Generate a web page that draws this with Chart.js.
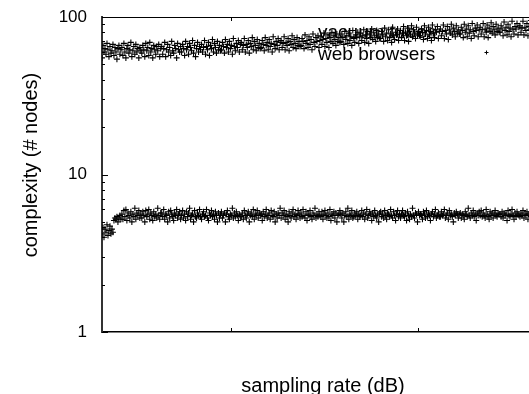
<!DOCTYPE html>
<html>
<head>
<meta charset="utf-8">
<script src="https://cdn.jsdelivr.net/npm/chart.js@4.4.1/dist/chart.umd.min.js"></script>
<style>
  html, body { margin: 0; padding: 0; background: #fff; overflow: hidden; }
  #wrap { width: 545px; height: 394px; }
</style>
</head>
<body>
<div id="wrap"><canvas id="c"></canvas></div>
<script>
// values, two samples per x unit
const seriesNames = ['vacuum tubes', 'web browsers'];
const sampleStep = 0.5;
const vacuumTubes = [
  55, 66, 60, 63, 58, 68, 62, 56, 65, 59, 61, 67, 57, 64, 60, 54, 63, 66, 58, 62,
  64, 57, 68, 60, 55, 63, 66, 59, 62, 69, 56, 61, 65, 58, 67, 60, 63, 55, 64, 61,
  59, 66, 62, 56, 68, 61, 64, 57, 69, 60, 63, 55, 66, 62, 58, 65, 61, 67, 56, 63,
  65, 58, 63, 69, 56, 62, 67, 60, 64, 57, 70, 61, 59, 66, 63, 55, 68, 62, 60, 65,
  60, 67, 63, 57, 70, 62, 65, 58, 68, 64, 61, 71, 59, 66, 56, 63, 69, 60, 65, 62,
  67, 60, 64, 71, 58, 65, 62, 69, 57, 66, 63, 72, 60, 68, 64, 59, 70, 62, 66, 61,
  62, 69, 65, 59, 72, 64, 67, 60, 70, 63, 66, 58, 73, 65, 61, 68, 64, 71, 60, 67,
  69, 62, 66, 73, 60, 67, 64, 71, 59, 68, 65, 74, 62, 70, 66, 61, 72, 64, 68, 63,
  64, 71, 67, 61, 74, 66, 69, 62, 72, 65, 68, 60, 75, 67, 63, 70, 66, 73, 62, 69,
  71, 64, 68, 75, 62, 69, 66, 73, 61, 70, 67, 76, 64, 72, 68, 63, 74, 66, 70, 65,
  66, 73, 70, 63, 77, 68, 71, 64, 75, 67, 72, 62, 78, 69, 65, 74, 70, 76, 64, 71,
  75, 67, 72, 79, 65, 73, 69, 77, 64, 74, 70, 80, 68, 76, 72, 66, 78, 70, 74, 69,
  70, 78, 74, 67, 81, 72, 76, 68, 79, 71, 75, 66, 82, 73, 69, 77, 74, 80, 68, 75,
  79, 71, 76, 83, 69, 77, 73, 81, 68, 78, 74, 84, 72, 80, 76, 70, 82, 74, 78, 73,
  73, 81, 77, 70, 85, 75, 79, 71, 83, 74, 78, 69, 86, 76, 72, 80, 77, 84, 71, 78,
  82, 74, 79, 87, 71, 80, 76, 85, 70, 81, 77, 88, 75, 83, 79, 73, 86, 77, 81, 76,
  76, 84, 80, 72, 88, 78, 82, 73, 86, 77, 81, 71, 89, 79, 74, 83, 80, 87, 73, 81,
  84, 76, 81, 89, 73, 82, 78, 87, 72, 83, 79, 90, 77, 85, 81, 75, 88, 79, 83, 78,
  78, 86, 82, 74, 90, 80, 84, 75, 88, 79, 83, 73, 91, 81, 76, 85, 82, 89, 75, 83,
  86, 78, 83, 91, 75, 84, 80, 89, 74, 85, 81, 92, 79, 87, 83, 77, 90, 81, 85, 80,
  80, 88, 84, 76, 93, 82, 86, 77, 90, 81, 85, 75, 94, 83, 78, 87, 84, 91, 77, 86,
  88, 80, 85, 94, 77, 86, 82, 91, 76, 87, 83, 95, 81, 89, 85, 79, 92, 83, 87, 82
];
const webBrowsers = [
  4.2, 4.6, 4.0, 4.5, 4.3, 4.8, 4.1, 4.4, 4.7, 4.2, 4.5, 4.3, 5.1, 5.3, 5.2, 5.4, 5.0, 5.3, 5.5, 5.2,
  5.6, 5.2, 5.9, 5.4, 6.0, 5.1, 5.7, 5.5, 5.3, 5.8, 5.0, 5.6, 5.4, 6.1, 5.2, 5.7, 5.5, 5.9, 5.3, 5.6,
  5.3, 5.8, 5.5, 5.0, 5.9, 5.4, 5.6, 6.0, 5.2, 5.7, 5.5, 5.1, 5.8, 5.4, 5.6, 5.3, 6.1, 5.5, 5.2, 5.7,
  5.7, 5.4, 6.0, 5.2, 5.6, 5.5, 5.0, 5.8, 5.3, 5.9, 5.6, 5.4, 5.1, 5.7, 5.5, 6.0, 5.3, 5.6, 5.8, 5.2,
  5.5, 5.9, 5.3, 5.6, 5.1, 5.8, 5.4, 5.7, 6.1, 5.2, 5.5, 5.6, 5.0, 5.9, 5.4, 5.3, 5.7, 5.5, 6.0, 5.4,
  5.2, 5.6, 5.8, 5.4, 5.5, 6.0, 5.3, 5.1, 5.7, 5.5, 5.9, 5.4, 5.6, 5.2, 5.8, 5.5, 5.0, 5.7, 5.3, 5.6,
  5.8, 5.3, 5.5, 5.7, 5.0, 5.6, 5.9, 5.4, 5.2, 5.6, 5.5, 6.1, 5.3, 5.7, 5.4, 5.8, 5.5, 5.1, 5.6, 5.4,
  5.4, 5.7, 5.2, 5.9, 5.5, 5.3, 5.6, 5.8, 5.0, 5.5, 5.7, 5.4, 6.0, 5.2, 5.6, 5.5, 5.9, 5.3, 5.7, 5.5,
  5.6, 5.1, 5.8, 5.4, 5.6, 6.0, 5.3, 5.5, 5.7, 5.2, 5.9, 5.5, 5.4, 5.8, 5.0, 5.6, 5.3, 5.7, 5.5, 6.1,
  5.3, 5.7, 5.5, 5.9, 5.2, 5.6, 5.4, 5.0, 5.8, 5.5, 5.3, 5.7, 6.0, 5.4, 5.6, 5.2, 5.5, 5.9, 5.6, 5.3,
  5.7, 5.4, 6.0, 5.5, 5.3, 5.8, 5.1, 5.6, 5.5, 5.9, 5.4, 5.2, 5.7, 5.5, 6.1, 5.3, 5.6, 5.4, 5.8, 5.5,
  5.4, 5.8, 5.2, 5.6, 5.9, 5.5, 5.3, 5.7, 5.4, 6.0, 5.1, 5.6, 5.5, 5.8, 5.3, 5.7, 5.0, 5.5, 5.6, 5.9,
  5.6, 5.3, 5.7, 5.0, 5.5, 5.8, 5.4, 6.1, 5.2, 5.6, 5.5, 5.9, 5.3, 5.4, 5.7, 5.5, 5.8, 5.2, 5.6, 5.4,
  5.5, 5.9, 5.4, 5.7, 5.2, 5.6, 6.0, 5.3, 5.5, 5.8, 5.6, 5.1, 5.7, 5.4, 5.9, 5.5, 5.3, 5.6, 5.0, 5.7,
  5.8, 5.4, 5.6, 5.3, 5.9, 5.5, 5.2, 5.7, 5.6, 5.4, 6.0, 5.5, 5.3, 5.8, 5.5, 5.1, 5.6, 5.9, 5.4, 5.6,
  5.3, 5.6, 5.9, 5.5, 5.4, 5.7, 5.1, 5.8, 5.5, 5.2, 5.6, 5.4, 6.1, 5.5, 5.3, 5.7, 5.6, 5.0, 5.8, 5.5,
  5.6, 5.5, 5.2, 5.8, 5.6, 5.3, 5.9, 5.4, 5.7, 5.5, 5.1, 5.6, 5.8, 5.4, 5.6, 6.0, 5.3, 5.5, 5.7, 5.4,
  5.4, 5.8, 5.5, 5.6, 6.0, 5.3, 5.5, 5.7, 5.2, 5.9, 5.5, 5.6, 5.4, 5.0, 5.7, 5.5, 5.8, 5.6, 5.3, 5.6,
  5.7, 5.3, 5.6, 5.5, 5.2, 5.8, 5.6, 5.4, 6.1, 5.5, 5.3, 5.7, 5.5, 5.9, 5.4, 5.6, 5.1, 5.7, 5.5, 5.8,
  5.5, 5.9, 5.4, 5.7, 5.5, 5.3, 6.0, 5.6, 5.4, 5.2, 5.8, 5.5, 5.7, 5.3, 5.6, 5.9, 5.5, 5.4, 5.7, 5.6,
  5.6, 5.4, 5.8, 5.3, 5.7, 5.5, 5.6, 5.1, 5.9, 5.5, 5.4, 5.6, 6.0, 5.5, 5.2, 5.7, 5.4, 5.8, 5.6, 5.5,
  5.4, 5.7, 5.5, 5.9, 5.3, 5.6, 5.5, 5.8, 5.2, 5.6, 5.7, 5.4, 5.5, 6.0, 5.6, 5.3, 5.7, 5.5, 5.4, 5.8
];
const yTicks = [1, 10, 100];
const xTicks = [65, 159];
const xRange = [0, 220];
const xTitle = 'sampling rate (dB)';
const yTitle = 'complexity (# nodes)';

const FONT = '"Liberation Sans", Arial, Helvetica, sans-serif';
const toPoints = arr => arr.map((v, i) => ({ x: i * sampleStep, y: v }));

function cross(ctx, x, y, r) {
  ctx.beginPath();
  ctx.moveTo(x - r, y); ctx.lineTo(x + r, y);
  ctx.moveTo(x, y - r); ctx.lineTo(x, y + r);
  ctx.stroke();
}

// gnuplot look: key, inward ticks, top border, axis titles
const gnuplotFrame = {
  id: 'gnuplotFrame',
  beforeDatasetsDraw(chart) {
    const ctx = chart.ctx;
    ctx.save();
    ctx.font = '19px ' + FONT;
    ctx.fillStyle = '#000';
    ctx.strokeStyle = '#000';
    ctx.lineWidth = 1;
    chart.data.datasets.forEach((ds, k) => {
      const base = 38 + k * 21.5;
      ctx.fillText(ds.label, 318, base);
      cross(ctx, 486.5, base - 7, 2);
    });
    ctx.restore();
  },
  afterDatasetsDraw(chart) {
    const ctx = chart.ctx;
    const a = chart.chartArea;
    const xs = chart.scales.x, ys = chart.scales.y;
    ctx.save();
    ctx.strokeStyle = '#000';
    ctx.lineWidth = 1;
    ctx.beginPath();
    ctx.moveTo(a.left, a.top + 0.5); ctx.lineTo(a.right, a.top + 0.5);
    xTicks.forEach(v => {
      const px = Math.round(xs.getPixelForValue(v)) + 0.5;
      ctx.moveTo(px, a.bottom); ctx.lineTo(px, a.bottom - 4);
      ctx.moveTo(px, a.top); ctx.lineTo(px, a.top + 4);
    });
    for (let d = 0; d < yTicks.length - 1; d++) {
      for (let m = 1; m < 10; m++) {
        const py = Math.round(ys.getPixelForValue(yTicks[d] * m)) + 0.5;
        const len = m === 1 ? 6 : 3;
        ctx.moveTo(a.left, py); ctx.lineTo(a.left + len, py);
      }
    }
    ctx.stroke();
    ctx.restore();
  },
  afterDraw(chart) {
    const ctx = chart.ctx;
    ctx.save();
    ctx.font = '20px ' + FONT;
    ctx.fillStyle = '#000';
    ctx.textAlign = 'center';
    ctx.textBaseline = 'alphabetic';
    ctx.fillText(xTitle, 323, 391.5);
    ctx.translate(37, 165);
    ctx.rotate(-Math.PI / 2);
    ctx.fillText(yTitle, 0, 0);
    ctx.restore();
  }
};

const pointLook = {
  pointStyle: 'cross',
  radius: 3,
  borderWidth: 1.1,
  borderColor: '#000',
  backgroundColor: '#000'
};

new Chart(document.getElementById('c').getContext('2d'), {
  type: 'scatter',
  data: {
    datasets: [
      Object.assign({ label: seriesNames[0], data: toPoints(vacuumTubes) }, pointLook),
      Object.assign({ label: seriesNames[1], data: toPoints(webBrowsers) }, pointLook)
    ]
  },
  options: {
    responsive: true,
    maintainAspectRatio: false,
    animation: false,
    events: [],
    layout: { padding: { top: 17, right: 0, left: 0, bottom: 0 } },
    plugins: { legend: { display: false }, tooltip: { enabled: false } },
    scales: {
      x: {
        type: 'linear',
        min: xRange[0],
        max: xRange[1],
        grid: { display: false, drawTicks: false },
        border: { display: true, color: '#000', width: 1.5 },
        ticks: { display: false },
        afterFit: s => { s.height = 62; }
      },
      y: {
        type: 'logarithmic',
        min: yTicks[0],
        max: yTicks[yTicks.length - 1],
        afterBuildTicks: s => { s.ticks = yTicks.map(v => ({ value: v })); },
        grid: { display: false, drawTicks: false },
        border: { display: true, color: '#333', width: 2 },
        ticks: {
          color: '#000',
          padding: 15,
          font: { family: FONT, size: 17 },
          callback: v => String(v)
        },
        afterFit: s => { s.width = 102; s.paddingTop = 10; s.paddingBottom = 10; }
      }
    }
  },
  plugins: [gnuplotFrame]
});
</script>
</body>
</html>
